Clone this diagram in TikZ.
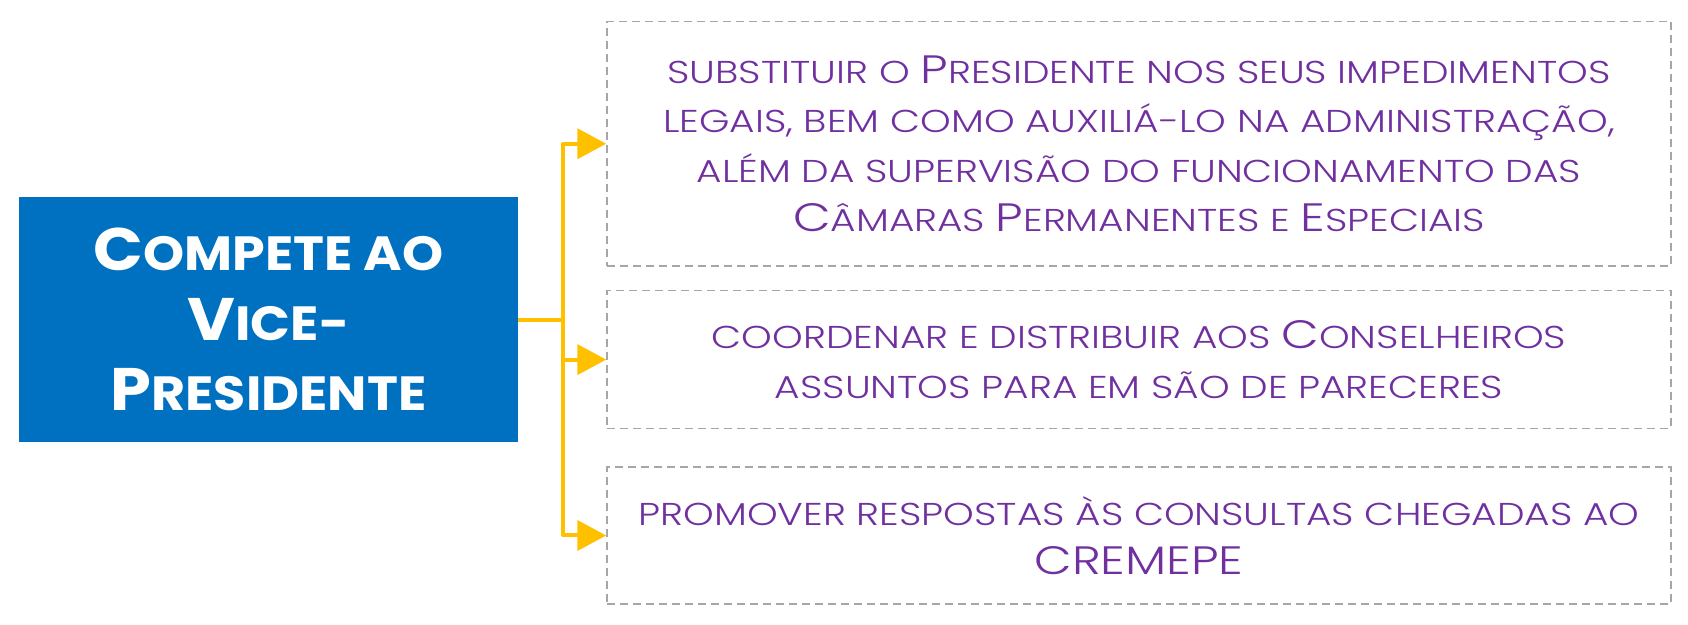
\documentclass[tikz,border=0pt]{standalone}
\usepackage{fontspec}
\setmainfont{Poppins}
\newfontfamily\itemfont{Poppins Light}[FakeStretch=1.235]
\newfontfamily\titlefont{Poppins}[FakeStretch=1.09]
\usetikzlibrary{arrows.meta}
\definecolor{vpblue}{HTML}{0070C0}
\definecolor{vpyellow}{HTML}{FFC000}
\definecolor{vppurple}{HTML}{7030A0}
\definecolor{vpgray}{HTML}{A6A6A6}
\newcommand\smc[1]{{\fontsize{15.8}{24.7}\selectfont\MakeUppercase{#1}}}
\newcommand\bsmc[1]{{\fontsize{24}{35}\selectfont\MakeUppercase{#1}}}
\tikzset{
  itembox/.style={draw=vpgray, line width=0.75pt, dash pattern=on 4pt off 2.5pt,
    minimum width=532pt, inner sep=0pt, align=center, text=vppurple,
    font=\itemfont\fontsize{19.8}{24.7}\selectfont},
  titlebox/.style={fill=vpblue, minimum width=249.2pt, minimum height=122.75pt,
    inner sep=0pt, align=center, text=white,
    font=\titlefont\fontsize{30}{35}\selectfont\bfseries},
  conn/.style={draw=vpyellow, line width=2pt, line join=round},
  connarrow/.style={conn, -{Triangle[length=14.5pt, width=15pt]}}
}
\begin{document}
\begin{tikzpicture}[x=0.5pt, y=-0.5pt]
\useasboundingbox (0,0) rectangle (1688,625);
\node[titlebox] (vp) at (268.6,319.75)
  {C\bsmc{ompete ao}\\V\bsmc{ice-}\\P\bsmc{residente}};
\node[itembox, minimum height=122.25pt] (b1) at (1139,143.75)
  {\smc{substituir o }P\smc{residente nos seus impedimentos}\\
   \smc{legais, bem como auxiliá-lo na administração,}\\
   \smc{além da supervisão do funcionamento das}\\
   C\smc{âmaras }P\smc{ermanentes e }E\smc{speciais}};
\node[itembox, minimum height=68.9pt] (b2) at (1139,359.6)
  {\smc{coordenar e distribuir aos }C\smc{onselheiros}\\
   \smc{assuntos para em são de pareceres}};
\node[itembox, minimum height=68.5pt] (b3) at (1139,535.5)
  {\smc{promover respostas às consultas chegadas ao}\\
   CREMEPE};
\coordinate (j) at (563,319.75);
\draw[conn] (vp.east) -- (j);
\draw[connarrow] (j) |- (b1.west);
\draw[connarrow] (j) |- (b2.west);
\draw[connarrow] (j) |- (b3.west);
\end{tikzpicture}
\end{document}
